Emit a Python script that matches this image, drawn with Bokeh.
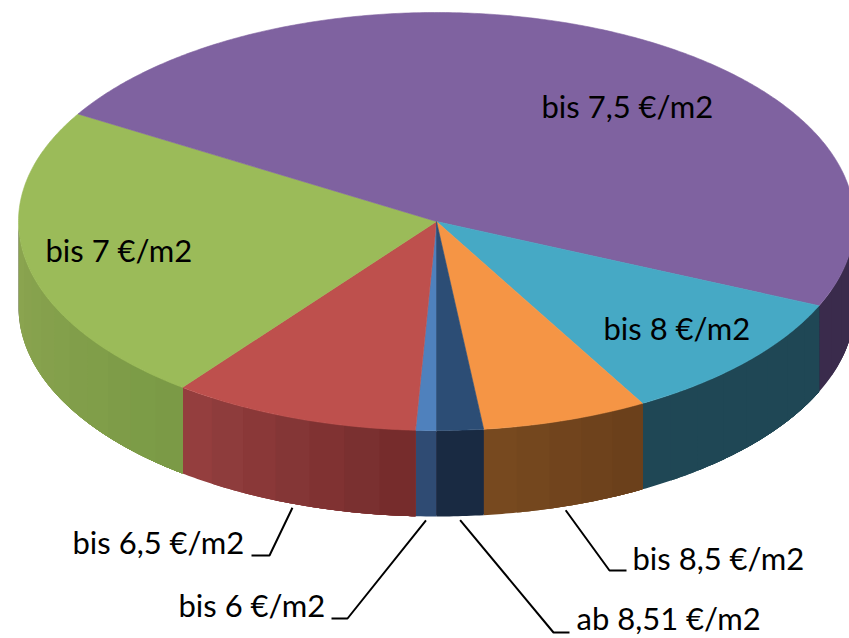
import numpy as np
from bokeh.core.properties import value
from bokeh.embed import file_html
from bokeh.models import Range1d
from bokeh.plotting import figure
from bokeh.resources import INLINE

# Share of each rent band, in percent, clockwise from the front of the pie
bands = ["bis 6 €/m2", "bis 6,5 €/m2", "bis 7 €/m2", "bis 7,5 €/m2",
         "bis 8 €/m2", "bis 8,5 €/m2", "ab 8,51 €/m2"]
shares = [0.8, 9.6, 23.2, 48.0, 10.2, 6.4, 1.8]

top_colors = ["#4f81bd", "#be504d", "#9bbb59", "#7f62a0", "#46a9c5", "#f59545", "#2c4d75"]
# Rim colour at the two ends of each slice's outer wall (left, right)
wall_left = ["#2f4b73", "#964040", "#8ca550", "#3a2b4c", "#1f4755", "#784a20", "#1a2c45"]
wall_right = ["#2f4b73", "#732b2b", "#7a9a46", "#3a2b4c", "#1f4755", "#6a3f1a", "#18283e"]

# Pie geometry on the page (pixels, y pointing down)
CX, CY = 436.0, 221.0
RX, RY = 418.0, 209.0
DEPTH = 86.0
FONT = "Lato"
FONT_SIZE = "31px"


def hex_rgb(c):
    return np.array([int(c[i:i + 2], 16) for i in (1, 3, 5)], dtype=float)


def mix(a, b, f):
    r = hex_rgb(a) * (1 - f) + hex_rgb(b) * f
    return "#%02x%02x%02x" % tuple(int(round(v)) for v in r)


def rim(theta_deg):
    t = np.radians(theta_deg)
    return CX + RX * np.cos(t), CY - RY * np.sin(t)


p = figure(width=849, height=638, output_backend="svg", toolbar_location=None,
           x_range=Range1d(0, 849), y_range=Range1d(638, 0),
           x_axis_type=None, y_axis_type=None, min_border=0,
           outline_line_color=None, background_fill_color="white",
           border_fill_color="white")
p.grid.visible = False

# Slice boundaries: start at the front (270 deg) and run clockwise on screen
total = sum(shares)
edges = 270.0 - np.concatenate([[0.0], np.cumsum(shares)]) * 360.0 / total

# Dark backing for the whole wall, so joins between slices stay closed
xs, ys = rim(np.linspace(181.0, 359.0, 360))
p.patch(np.concatenate([xs, xs[::-1]]), np.concatenate([ys + 1, ys[::-1] + DEPTH - 1]),
        fill_color="#3a3040", line_color=None)

# Outer walls: only the part of the rim that faces the viewer (180..360 deg).
# Each band is painted over the rest of its slice, so no seams show between bands.
for i in range(len(bands)):
    hi, lo = edges[i], edges[i + 1]
    for a, b in [(lo, hi), (lo + 360.0, hi + 360.0)]:
        a, b = max(a, 180.0), min(b, 360.0)
        if b <= a:
            continue
        steps = max(1, int((b - a) / 4.5))
        cuts = np.linspace(a, b, steps + 1)
        for k in range(steps):
            f = (k + 0.5) / steps
            ts = np.linspace(cuts[k], b, max(4, int((b - cuts[k]) * 2)))
            xs, ys = rim(ts)
            color = mix(wall_left[i], wall_right[i], f)
            p.patch(np.concatenate([xs, xs[::-1]]),
                    np.concatenate([ys, ys[::-1] + DEPTH]),
                    fill_color=color, line_color=None)

# Top face
for i in range(len(bands)):
    ts = np.linspace(edges[i], edges[i + 1], max(6, int(abs(edges[i] - edges[i + 1]) * 2)))
    xs, ys = rim(ts)
    p.patch(np.concatenate([[CX], xs]), np.concatenate([[CY], ys]),
            fill_color=top_colors[i], line_color=top_colors[i], line_width=0.6)

# Labels sitting on the pie: band index -> left edge, vertical centre
inner_labels = {2: (45, 249), 3: (541, 105), 4: (603, 327)}
for i, (x, y) in inner_labels.items():
    p.text([x], [y], text=[bands[i]], text_font=value(FONT), text_font_size=FONT_SIZE,
           text_color="#000000", text_align="left", text_baseline="middle")

# Labels below the pie with a leader: band index -> label (x, y), elbow (x, y), stub end x
outer_labels = {
    0: ((178, 604), (347, 618), 331),
    1: ((72, 541), (269, 555), 251),
    5: ((632, 557), (609, 570), 626),
    6: ((576, 617), (553, 632), 569),
}
for i, ((lx, ly), (ex, ey), sx) in outer_labels.items():
    mid = (edges[i] + edges[i + 1]) / 2.0
    x0, y0 = rim(mid)
    p.line([x0, ex, sx], [y0 + DEPTH + 4, ey, ey], line_color="#000000", line_width=2)
    p.text([lx], [ly], text=[bands[i]], text_font=value(FONT), text_font_size=FONT_SIZE,
           text_color="#000000", text_align="left", text_baseline="middle")

open("out.html", "w").write(file_html(p, INLINE))
